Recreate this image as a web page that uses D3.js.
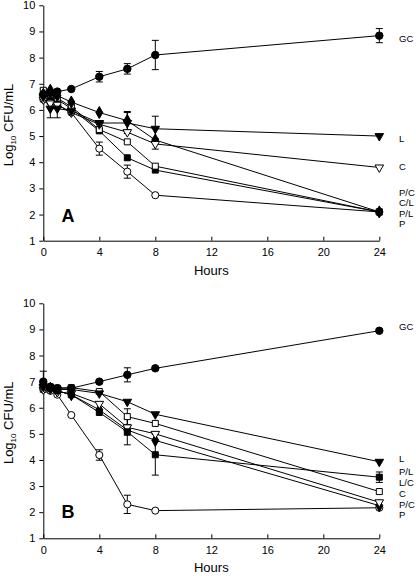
<!DOCTYPE html>
<html><head><meta charset="utf-8">
<script src="https://cdn.jsdelivr.net/npm/d3@7"></script>
<style>
body{margin:0;background:#fff;}
svg{display:block;font-family:"Liberation Sans",Arial,sans-serif;}
</style></head>
<body>
<svg id="c" width="416" height="576"></svg>
<script>
// ---------- DATA ----------
const hours = [0, 0.5, 1, 2, 4, 6, 8, 24];
const xTicks = [0, 4, 8, 12, 16, 20, 24];
const yTicks = [1, 2, 3, 4, 5, 6, 7, 8, 9, 10];

// Panel A
const namesA = ["GC", "L", "C", "P/C", "C/L", "P/L", "P"];
const A_GC  = [6.60, 6.65, 6.70, 6.80, 7.27, 7.57, 8.10, 8.84];
const A_L   = [6.50, 6.05, 6.05, 5.97, 5.50, 5.50, 5.28, 5.00];
const A_C   = [6.40, 6.25, 6.20, 5.90, 5.45, 5.15, 4.70, 3.80];
const A_PC  = [6.60, 6.75, 6.55, 6.30, 5.90, 5.59, 4.85, 2.10];
const A_CL  = [6.75, 6.60, 6.45, 6.12, 5.25, 4.78, 3.85, 2.10];
const A_PL  = [6.55, 6.50, 6.40, 6.05, 5.20, 4.17, 3.70, 2.10];
const A_P   = [6.40, 6.30, 6.20, 5.90, 4.52, 3.64, 2.74, 2.10];
const A_GC_err = [0.20, 0.10, 0.05, 0.12, 0.20, 0.20, 0.56, 0.27];
const A_L_err  = [0.15, 0.35, 0.35, 0.10, 0.10, 0.40, 0.48, 0.05];
const A_C_err  = [0.10, 0.15, 0.10, 0.10, 0.10, 0.10, 0.20, 0.05];
const A_PC_err = [0.10, 0.10, 0.10, 0.10, 0.10, 0.35, 0.15, 0.05];
const A_CL_err = [0.10, 0.10, 0.10, 0.10, 0.15, 0.10, 0.10, 0.05];
const A_PL_err = [0.10, 0.10, 0.10, 0.10, 0.10, 0.05, 0.08, 0.05];
const A_P_err  = [0.10, 0.10, 0.10, 0.08, 0.25, 0.25, 0.05, 0.05];
const A_labelVals = [8.74, 4.90, 3.82, 2.85, 2.45, 2.05, 1.65];

// Panel B
const namesB = ["GC", "L", "P/L", "L/C", "C", "P/C", "P"];
const B_GC  = [7.00, 6.80, 6.75, 6.75, 7.00, 7.26, 7.51, 8.95];
const B_L   = [6.80, 6.75, 6.70, 6.70, 6.55, 6.23, 5.75, 3.93];
const B_PL  = [6.95, 6.75, 6.65, 6.50, 5.82, 5.08, 4.20, 3.34];
const B_LC  = [6.80, 6.80, 6.75, 6.77, 6.62, 5.66, 5.40, 2.79];
const B_C   = [6.70, 6.70, 6.60, 6.55, 6.15, 5.25, 5.00, 2.38];
const B_PC  = [6.85, 6.75, 6.65, 6.50, 5.92, 5.15, 4.75, 2.25];
const B_P   = [6.70, 6.65, 6.50, 5.72, 4.19, 2.30, 2.06, 2.17];
const B_GC_err = [0.40, 0.05, 0.05, 0.05, 0.05, 0.27, 0.05, 0.05];
const B_L_err  = [0.10, 0.10, 0.10, 0.05, 0.10, 0.12, 0.14, 0.05];
const B_PL_err = [0.10, 0.10, 0.10, 0.08, 0.15, 0.50, 0.78, 0.20];
const B_LC_err = [0.10, 0.10, 0.10, 0.05, 0.12, 0.30, 0.10, 0.05];
const B_C_err  = [0.10, 0.10, 0.10, 0.05, 0.15, 0.10, 0.10, 0.05];
const B_PC_err = [0.10, 0.10, 0.10, 0.05, 0.10, 0.20, 0.15, 0.05];
const B_P_err  = [0.10, 0.10, 0.10, 0.05, 0.20, 0.35, 0.05, 0.05];
const B_labelVals = [9.11, 4.05, 3.54, 3.14, 2.72, 2.31, 1.91];

// ---------- DRAW ----------
const svg = d3.select("#c");
const x = d3.scaleLinear().domain([0, 24]).range([43.3, 379.3]);

// marker styles: [symbol, filled, rotate, size]
const styles = {
  "GC":  [d3.symbolCircle, true, 0, 44],
  "P":   [d3.symbolCircle, false, 0, 40],
  "L":   [d3.symbolTriangle, true, 180, 32],
  "C":   [d3.symbolTriangle, false, 180, 32],
  "P/L": [d3.symbolSquare, true, 0, 36],
  "C/L": [d3.symbolSquare, false, 0, 36],
  "L/C": [d3.symbolSquare, false, 0, 36],
  "P/C": [d3.symbolDiamond, true, 0, 42]
};

function panel(cfg) {
  const y = d3.scaleLinear().domain([1, 10]).range(cfg.yRange);
  const g = svg.append("g");

  // axes
  const ya = g.append("g").attr("transform", `translate(${x(0)},0)`)
    .call(d3.axisLeft(y).tickValues(yTicks).tickSize(4).tickSizeOuter(0).tickPadding(4));
  const xa = g.append("g").attr("transform", `translate(0,${y(1)})`)
    .call(d3.axisBottom(x).tickValues(xTicks).tickSize(-4).tickSizeOuter(0).tickPadding(8));
  [ya, xa].forEach(a => {
    a.selectAll("path,line").attr("stroke", "#000").attr("stroke-width", 1);
    a.selectAll("text").attr("fill", "#000").attr("font-size", 11)
      .attr("font-family", '"Liberation Sans",Arial,sans-serif');
  });

  const line = d3.line().x((d, i) => x(hours[i])).y(d => y(d));

  // lines
  cfg.series.forEach(s => {
    g.append("path").datum(s.vals).attr("d", line)
      .attr("fill", "none").attr("stroke", "#000").attr("stroke-width", 1);
  });
  // error bars
  cfg.series.forEach(s => {
    s.vals.forEach((v, i) => {
      const e = s.err[i];
      if (y(v - e) - y(v + e) < 9) return;
      const xx = x(hours[i]);
      g.append("line").attr("x1", xx).attr("x2", xx).attr("y1", y(v - e)).attr("y2", y(v + e))
        .attr("stroke", "#000").attr("stroke-width", 1);
      [v - e, v + e].forEach(w => {
        g.append("line").attr("x1", xx - 3.5).attr("x2", xx + 3.5).attr("y1", y(w)).attr("y2", y(w))
          .attr("stroke", "#000").attr("stroke-width", 1);
      });
    });
  });
  // markers (draw in reverse so GC on top)
  cfg.series.slice().reverse().forEach(s => {
    const st = styles[s.name];
    const sym = d3.symbol().type(st[0]).size(st[3]);
    g.selectAll(null).data(s.vals).enter().append("path")
      .attr("d", sym)
      .attr("transform", (d, i) => `translate(${x(hours[i])},${y(d)}) rotate(${st[2]})`)
      .attr("fill", st[1] ? "#000" : "#fff")
      .attr("stroke", "#000").attr("stroke-width", 1);
  });

  // right-hand labels
  cfg.series.forEach((s, i) => {
    g.append("text").attr("x", 399).attr("y", y(cfg.labelVals[i]))
      .attr("dy", "0.36em").attr("font-size", 9.5).text(s.name);
  });

  // x title
  g.append("text").attr("x", (x(0) + x(24)) / 2).attr("y", y(1) + 34)
    .attr("text-anchor", "middle").attr("font-size", 13).text("Hours");
  // y title
  const yt = g.append("text")
    .attr("transform", `translate(13,${(y(1) + y(10)) / 2 + 2}) rotate(-90)`)
    .attr("text-anchor", "middle").attr("font-size", 13);
  yt.append("tspan").text("Log");
  yt.append("tspan").attr("font-size", 8).attr("dy", 3).text("10");
  yt.append("tspan").attr("dy", -3).text(" CFU/mL");
  // panel letter
  g.append("text").attr("x", 68).attr("y", y(cfg.letterVal)).attr("dy", "0.36em")
    .attr("text-anchor", "middle").attr("font-size", 18).attr("font-weight", "bold")
    .text(cfg.letter);
}

panel({
  yRange: [240.7, 5.3], letter: "A", letterVal: 1.98, labelVals: A_labelVals,
  series: [
    {name: namesA[0], vals: A_GC, err: A_GC_err},
    {name: namesA[1], vals: A_L, err: A_L_err},
    {name: namesA[2], vals: A_C, err: A_C_err},
    {name: namesA[3], vals: A_PC, err: A_PC_err},
    {name: namesA[4], vals: A_CL, err: A_CL_err},
    {name: namesA[5], vals: A_PL, err: A_PL_err},
    {name: namesA[6], vals: A_P, err: A_P_err}
  ]
});
panel({
  yRange: [538.3, 303.3], letter: "B", letterVal: 2.02, labelVals: B_labelVals,
  series: [
    {name: namesB[0], vals: B_GC, err: B_GC_err},
    {name: namesB[1], vals: B_L, err: B_L_err},
    {name: namesB[2], vals: B_PL, err: B_PL_err},
    {name: namesB[3], vals: B_LC, err: B_LC_err},
    {name: namesB[4], vals: B_C, err: B_C_err},
    {name: namesB[5], vals: B_PC, err: B_PC_err},
    {name: namesB[6], vals: B_P, err: B_P_err}
  ]
});
</script>
</body></html>
